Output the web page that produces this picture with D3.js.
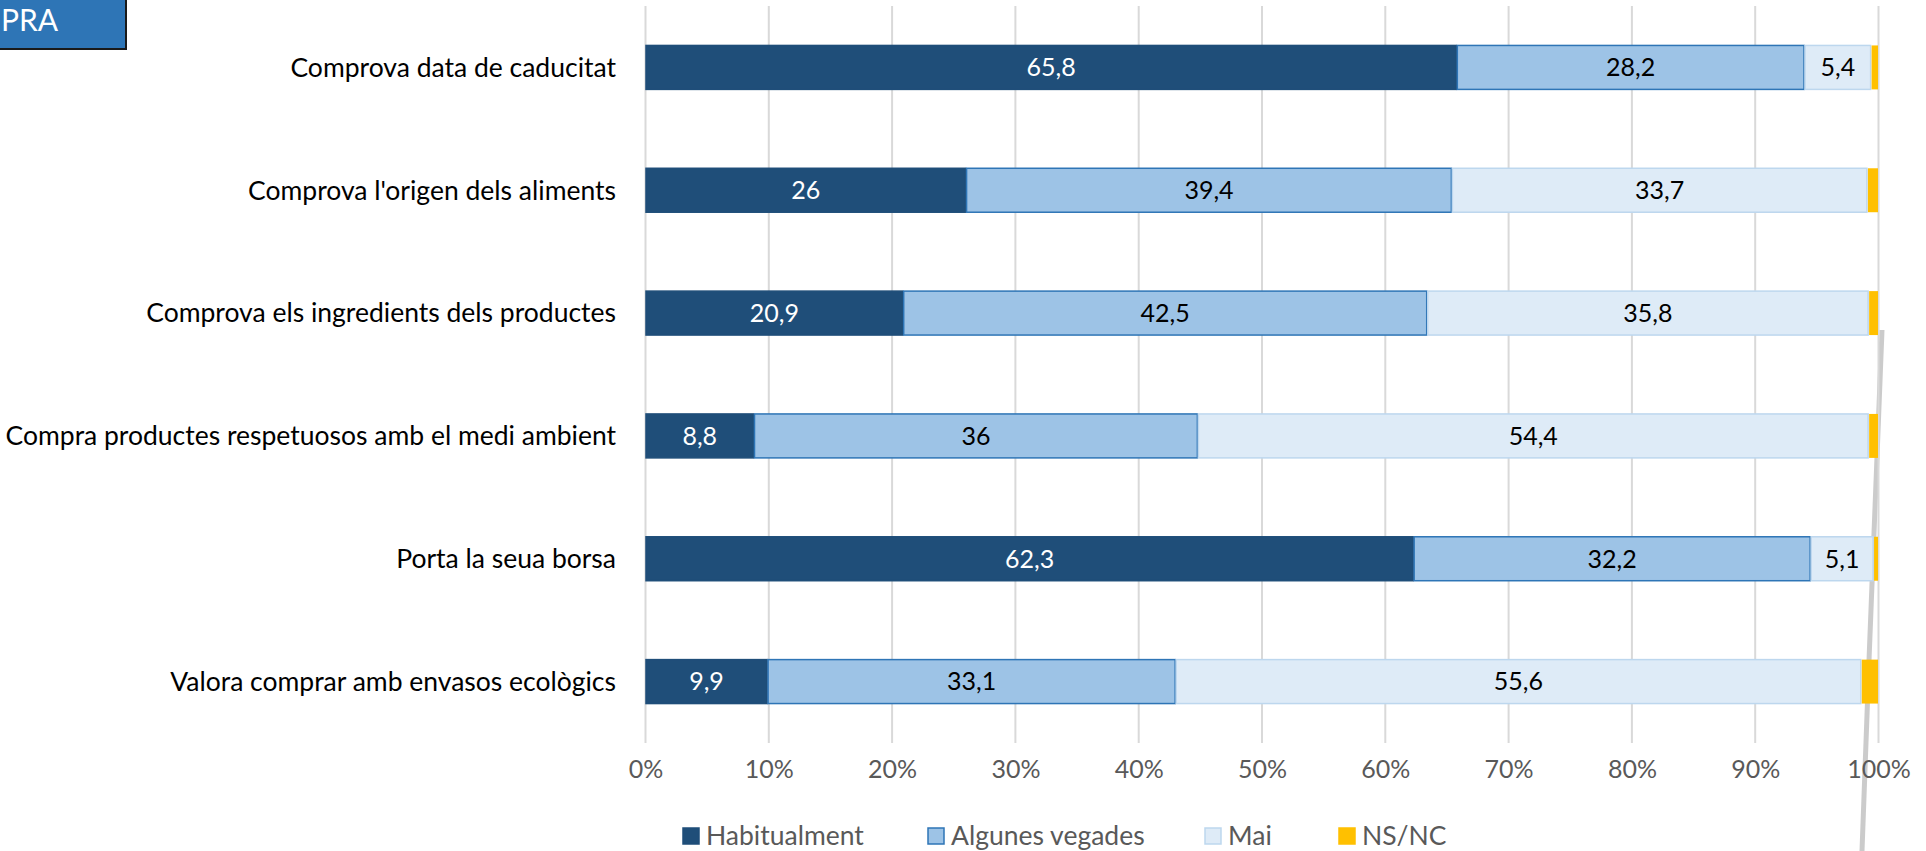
<!DOCTYPE html>
<html><head><meta charset="utf-8">
<script src="https://cdn.jsdelivr.net/npm/d3@7"></script>
<style>
html,body{margin:0;padding:0;background:#fff;}
svg{display:block;}
text{font-family:Lato,"Open Sans",sans-serif;}
</style></head>
<body>
<svg id="chart" width="1926" height="851"></svg>
<script>
const categories = [
  "Comprova data de caducitat",
  "Comprova l'origen dels aliments",
  "Comprova els ingredients dels productes",
  "Compra productes respetuosos amb el medi ambient",
  "Porta la seua borsa",
  "Valora comprar amb envasos ecològics"
];
const seriesNames = ["Habitualment", "Algunes vegades", "Mai", "NS/NC"];
const habitualment = [65.8, 26, 20.9, 8.8, 62.3, 9.9];
const algunesVegades = [28.2, 39.4, 42.5, 36, 32.2, 33.1];
const mai = [5.4, 33.7, 35.8, 54.4, 5.1, 55.6];
const nsnc = [0.6, 0.9, 0.8, 0.8, 0.4, 1.4];
const tickValues = [0, 10, 20, 30, 40, 50, 60, 70, 80, 90, 100];
const tickLabels = ["0%", "10%", "20%", "30%", "40%", "50%", "60%", "70%", "80%", "90%", "100%"];

const fills = ["#1F4E79", "#9DC3E6", "#DEEBF7", "#FFC000"];
const strokes = ["#1F4E79", "#2E75B6", "#BDD7EE", "#FFC000"];
const labelColors = ["#ffffff", "#000000", "#000000", null];

const svg = d3.select("#chart");

// faint background decoration (photo texture stroke)
const deco = svg.append("g").attr("fill", "none");
deco.append("path").attr("d", "M1882,330 C1876,480 1868,680 1862,851")
  .attr("stroke", "#a8a8a8").attr("stroke-width", 5).attr("opacity", 0.6);

// Title box fragment
svg.append("rect").attr("x", -3).attr("y", -3).attr("width", 129).attr("height", 52)
  .attr("fill", "#2E75B6").attr("stroke", "#1a1a1a").attr("stroke-width", 2);
svg.append("text").attr("x", 1).attr("y", 31).attr("fill", "#fff")
  .attr("font-size", 30).text("PRA");

const x = d3.scaleLinear().domain([0, 100]).range([645.5, 1878.5]);
const y = d3.scaleBand().domain(categories).range([6, 743]).paddingInner(0.634).paddingOuter(0.317);

// gridlines
svg.append("g").selectAll("line").data(tickValues).join("line")
  .attr("x1", d => x(d)).attr("x2", d => x(d))
  .attr("y1", 6).attr("y2", 743)
  .attr("stroke", "#D9D9D9").attr("stroke-width", 2);

// x axis labels
const xAxis = d3.axisBottom(x).tickValues(tickValues)
  .tickFormat((d, i) => tickLabels[i]).tickSize(0).tickPadding(0);
const gx = svg.append("g").attr("transform", "translate(0,760)").call(xAxis);
gx.select(".domain").remove();
gx.selectAll("text").attr("font-size", 25).attr("fill", "#595959")
  .attr("font-family", "Lato").attr("dy", "0.71em");

// y axis labels
const yAxis = d3.axisLeft(y).tickSize(0).tickPadding(0);
const gy = svg.append("g").attr("transform", "translate(616,0)").call(yAxis);
gy.select(".domain").remove();
gy.selectAll("text").attr("font-size", 26.5).attr("fill", "#000")
  .attr("font-family", "Lato").attr("dy", "0.35em");

// stack
const rows = categories.map((c, i) => ({
  cat: c, "Habitualment": habitualment[i], "Algunes vegades": algunesVegades[i],
  "Mai": mai[i], "NS/NC": nsnc[i]
}));
const stacked = d3.stack().keys(seriesNames)(rows);

const layers = svg.append("g").selectAll("g").data(stacked).join("g");
layers.each(function(layer, si) {
  const g = d3.select(this);
  g.selectAll("rect").data(layer).join("rect")
    .attr("x", d => x(d[0]) + 0.5)
    .attr("y", d => y(d.data.cat) + 0.5)
    .attr("width", d => Math.max(0, x(d[1]) - x(d[0]) - 1))
    .attr("height", y.bandwidth() - 1)
    .attr("fill", fills[si])
    .attr("stroke", strokes[si]).attr("stroke-width", si === 3 ? 0 : 1.5);
  if (labelColors[si]) {
    g.selectAll("text").data(layer).join("text")
      .attr("x", d => (x(d[0]) + x(d[1])) / 2)
      .attr("y", d => y(d.data.cat) + y.bandwidth() / 2)
      .attr("dy", "0.35em").attr("text-anchor", "middle")
      .attr("font-size", 25).attr("fill", labelColors[si])
      .text(d => d3.format(".1~f")(d[1] - d[0]).replace(".", ","));
  }
});

// legend
const legendX = [683, 928, 1205, 1339];
const legend = svg.append("g").attr("transform", "translate(0,836)");
const li = legend.selectAll("g").data(seriesNames).join("g")
  .attr("transform", (d, i) => `translate(${legendX[i]},0)`);
li.append("rect").attr("x", 0).attr("y", -8).attr("width", 16).attr("height", 16)
  .attr("fill", (d, i) => fills[i]).attr("stroke", (d, i) => strokes[i]).attr("stroke-width", 1.5);
li.append("text").attr("x", 23).attr("y", 0).attr("dy", "0.35em")
  .attr("font-size", 26.5).attr("fill", "#595959").text(d => d);
</script>
</body></html>
